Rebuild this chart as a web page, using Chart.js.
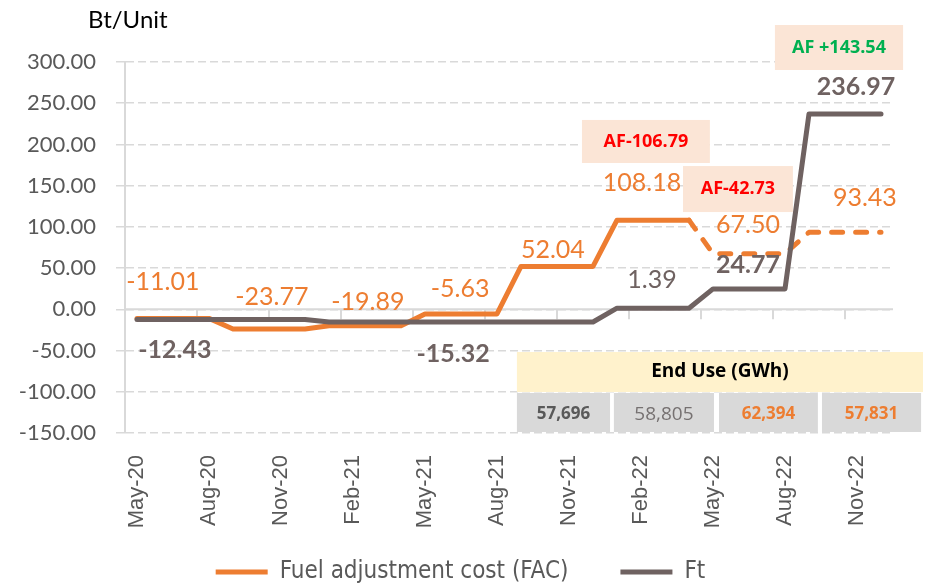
<!DOCTYPE html>
<html>
<head>
<meta charset="utf-8">
<script src="https://cdn.jsdelivr.net/npm/chart.js@4.4.0/dist/chart.umd.min.js"></script>
<style>
  html, body { margin: 0; padding: 0; background: #fff; }
  #wrap { width: 930px; height: 588px; }
</style>
</head>
<body>
<div id="wrap"><canvas id="chart"></canvas></div>
<script>
// monthly categories, May-20 .. Dec-22
const months = ['May-20', 'Jun-20', 'Jul-20', 'Aug-20', 'Sep-20', 'Oct-20', 'Nov-20', 'Dec-20',
  'Jan-21', 'Feb-21', 'Mar-21', 'Apr-21', 'May-21', 'Jun-21', 'Jul-21', 'Aug-21',
  'Sep-21', 'Oct-21', 'Nov-21', 'Dec-21', 'Jan-22', 'Feb-22', 'Mar-22', 'Apr-22',
  'May-22', 'Jun-22', 'Jul-22', 'Aug-22', 'Sep-22', 'Oct-22', 'Nov-22', 'Dec-22'];

// Bt/Unit, one value per month (tariff changes every 4 months)
const fac = [-11.01, -11.01, -11.01, -11.01, -23.77, -23.77, -23.77, -23.77,
  -19.89, -19.89, -19.89, -19.89, -5.63, -5.63, -5.63, -5.63,
  52.04, 52.04, 52.04, 52.04, 108.18, 108.18, 108.18, 108.18,
  67.50, 67.50, 67.50, 67.50, 93.43, 93.43, 93.43, 93.43];
const ft = [-12.43, -12.43, -12.43, -12.43, -12.43, -12.43, -12.43, -12.43,
  -15.32, -15.32, -15.32, -15.32, -15.32, -15.32, -15.32, -15.32,
  -15.32, -15.32, -15.32, -15.32, 1.39, 1.39, 1.39, 1.39,
  24.77, 24.77, 24.77, 24.77, 236.97, 236.97, 236.97, 236.97];

// FAC is a forecast from this month on (dashed)
const forecastFrom = 23;

// accumulated AF and end use per period
const afValues = [-106.79, -42.73, 143.54];
const endUse = [57696, 58805, 62394, 57831];

const orange = '#ED7D31';
const grey = '#6F6261';

// where the value labels sit: data index, x position (category units), y offset in px
const labelSpots = [
  { ds: 0, idx: 0, x: 1.08, dy: -36 },
  { ds: 0, idx: 4, x: 5.62, dy: -32 },
  { ds: 0, idx: 8, x: 9.62, dy: -24 },
  { ds: 0, idx: 12, x: 13.46, dy: -25 },
  { ds: 0, idx: 16, x: 17.33, dy: -16 },
  { ds: 0, idx: 20, x: 21.04, dy: -37 },
  { ds: 0, idx: 24, x: 25.46, dy: -29 },
  { ds: 0, idx: 28, x: 30.33, dy: -34 },
  { ds: 1, idx: 0, x: 1.58, dy: 30, bold: true },
  { ds: 1, idx: 8, x: 13.17, dy: 32, bold: true },
  { ds: 1, idx: 20, x: 21.46, dy: -28 },
  { ds: 1, idx: 24, x: 25.46, dy: -24, bold: true },
  { ds: 1, idx: 28, x: 29.96, dy: -27, bold: true }
];

// annotation boxes in axis units
const afBoxes = [
  { x0: 18.54, x1: 23.87, y0: 229.7, y1: 177.5, color: '#FF0000', text: v => 'AF' + v.toFixed(2) },
  { x0: 22.75, x1: 27.33, y0: 173.8, y1: 118.0, color: '#FF0000', text: v => 'AF' + v.toFixed(2) },
  { x0: 26.58, x1: 31.92, y0: 344.9, y1: 290.3, color: '#00B050', text: v => 'AF +' + v.toFixed(2) }
];
const endUseHead = { x0: 15.83, x1: 32.75, y0: -51.8, y1: -100.3 };
const endUseCells = [
  { x0: 15.83, x1: 19.71, color: '#595959', font: 'bold 17px "Open Sans"' },
  { x0: 19.87, x1: 24.04, color: '#767171', font: '19px "Open Sans"' },
  { x0: 24.25, x1: 28.37, color: orange, font: 'bold 17px "Open Sans"' },
  { x0: 28.54, x1: 32.67, color: orange, font: 'bold 17px "Open Sans"' }
];
const cellTop = -101.5, cellBottom = -148.8;

function fillBox(ctx, xs, ys, b, fill) {
  const l = xs.getPixelForValue(b.x0), r = xs.getPixelForValue(b.x1);
  const t = ys.getPixelForValue(b.y0), bt = ys.getPixelForValue(b.y1);
  ctx.fillStyle = fill;
  ctx.fillRect(l, t, r - l, bt - t);
  return { cx: (l + r) / 2, cy: (t + bt) / 2 };
}

const extras = {
  id: 'extras',
  afterLayout(chart) {
    // nudge the legend a little lower and to the right
    chart.legend.top += 6;
    chart.legend.bottom += 6;
    chart.legend.left += 14;
    chart.legend.right += 14;
    // let the rotated month labels run into the legend band (labels are clipped to the scale box)
    const xs = chart.scales.x;
    xs.bottom = chart.height;
    xs.height = xs.bottom - xs.top;
  },
  beforeDatasetsDraw(chart) {
    const ctx = chart.ctx;
    const xs = chart.scales.x, ys = chart.scales.y;
    ctx.save();
    // horizontal axis crosses at zero
    const y0 = ys.getPixelForValue(0);
    const half = (xs.getPixelForValue(1) - xs.getPixelForValue(0)) / 2;
    ctx.strokeStyle = '#D9D9D9';
    ctx.lineWidth = 2;
    ctx.beginPath();
    ctx.moveTo(chart.chartArea.left, y0);
    ctx.lineTo(chart.chartArea.right, y0);
    for (let i = 3; i < months.length; i += 3) {
      const px = Math.round(xs.getPixelForValue(i) - half);
      ctx.moveTo(px, y0);
      ctx.lineTo(px, y0 + 10);
    }
    ctx.stroke();

    ctx.textAlign = 'center';
    ctx.textBaseline = 'middle';
    // AF boxes
    afBoxes.forEach((b, i) => {
      const c = fillBox(ctx, xs, ys, b, '#FBE5D6');
      ctx.fillStyle = b.color;
      ctx.font = 'bold 18px "Open Sans"';
      ctx.fillText(b.text(afValues[i]), c.cx, c.cy);
    });
    // end use table
    const h = fillBox(ctx, xs, ys, endUseHead, '#FFF2CC');
    ctx.fillStyle = '#000';
    ctx.font = 'bold 19px "Open Sans"';
    ctx.fillText('End Use (GWh)', h.cx, h.cy);
    endUseCells.forEach((c, i) => {
      const p = fillBox(ctx, xs, ys, { x0: c.x0, x1: c.x1, y0: cellTop, y1: cellBottom }, '#D9D9D9');
      ctx.fillStyle = c.color;
      ctx.font = c.font;
      ctx.fillText(endUse[i].toLocaleString('en-US'), p.cx, p.cy + 2);
    });
    ctx.restore();
  },
  afterDatasetsDraw(chart) {
    const ctx = chart.ctx;
    const xs = chart.scales.x, ys = chart.scales.y;
    ctx.save();
    ctx.textAlign = 'center';
    ctx.textBaseline = 'middle';
    labelSpots.forEach(s => {
      const v = chart.data.datasets[s.ds].data[s.idx];
      ctx.fillStyle = s.ds === 0 ? orange : grey;
      ctx.font = (s.bold ? 'bold ' : '') + '25px Lato';
      ctx.fillText(v.toFixed(2), xs.getPixelForValue(s.x), ys.getPixelForValue(v) + s.dy);
    });
    // unit title
    ctx.textAlign = 'left';
    ctx.textBaseline = 'alphabetic';
    ctx.fillStyle = '#000';
    ctx.font = '24px Lato';
    ctx.fillText('Bt/Unit', 88, 28);
    ctx.restore();
  }
};

const data = {
  labels: months,
  datasets: [{
    label: 'Fuel adjustment cost (FAC)',
    data: fac,
    borderColor: orange,
    backgroundColor: orange,
    borderWidth: 5,
    pointRadius: 0,
    borderCapStyle: 'round',
    borderJoinStyle: 'round',
    order: 1,
    segment: {
      borderDash: c => c.p0DataIndex >= forecastFrom ? [11, 13] : undefined
    }
  }, {
    label: 'Ft',
    data: ft,
    borderColor: grey,
    backgroundColor: grey,
    borderWidth: 5,
    pointRadius: 0,
    borderCapStyle: 'round',
    borderJoinStyle: 'round',
    order: 0
  }]
};

const config = {
  type: 'line',
  data: data,
  options: {
    responsive: true,
    maintainAspectRatio: false,
    animation: false,
    layout: { padding: { top: 62, right: 37, left: 0, bottom: 0 } },
    scales: {
      x: {
        offset: true,
        grid: { display: false },
        border: { display: false },
        ticks: {
          autoSkip: false,
          minRotation: 90,
          maxRotation: 90,
          padding: 14,
          color: '#595959',
          font: { family: 'Liberation Sans', size: 22 },
          callback: function (v, i) { return i % 3 === 0 ? this.getLabelForValue(v) : ''; }
        },
        afterFit: s => { s.height = 69; }
      },
      y: {
        min: -150,
        max: 300,
        ticks: {
          stepSize: 50,
          padding: 20,
          color: '#595959',
          font: { family: 'Lato', size: 22 },
          callback: v => v.toFixed(2)
        },
        grid: { color: '#D9D9D9', lineWidth: 1.5, tickLength: 9 },
        border: { display: true, color: '#D9D9D9', width: 2, dash: [8, 4] },
        afterFit: s => { s.width = 125; }
      }
    },
    plugins: {
      legend: {
        position: 'bottom',
        labels: {
          usePointStyle: true,
          pointStyle: 'line',
          pointStyleWidth: 52,
          padding: 52,
          color: '#595959',
          font: { family: 'DejaVu Sans Condensed', size: 24 },
          sort: (a, b) => a.datasetIndex - b.datasetIndex
        }
      },
      tooltip: { enabled: false }
    }
  },
  plugins: [extras]
};

new Chart(document.getElementById('chart'), config);
</script>
</body>
</html>
